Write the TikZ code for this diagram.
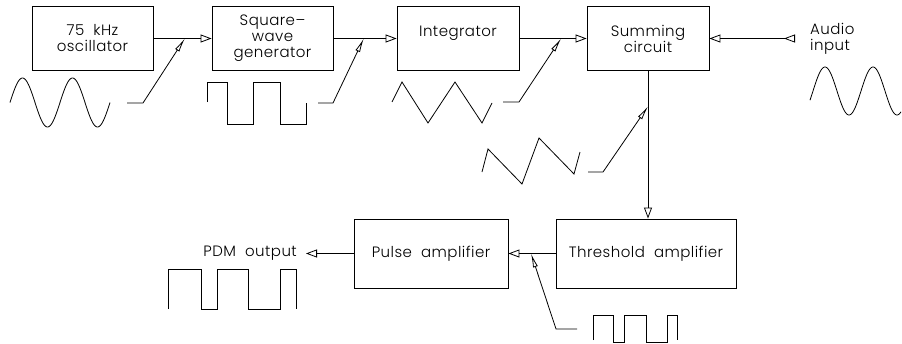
\documentclass[tikz,border=0pt]{standalone}
\usepackage{fontspec}
\setmainfont{Poppins}[UprightFont=* Light, LetterSpace=3]
\usetikzlibrary{arrows.meta,calc}

\tikzset{
  block/.style={draw, line width=0.9pt, minimum width=#1, minimum height=64pt, inner sep=0pt},
  block/.default=121pt,
  lbl/.style={font=\fontsize{15}{16}\selectfont, align=center, inner sep=0pt},
  opentip/.style={Triangle[open, length=11pt, width=8pt]},
  conn/.style={line width=0.8pt, -{Triangle[open, length=11pt, width=8pt]}},
  feed/.style={line width=0.8pt, -{Latex[open, length=14pt, width=5pt]}},
  wave/.style={line width=0.8pt, line join=miter}
}

\begin{document}
\begin{tikzpicture}[x=1pt, y=-1pt]
    \useasboundingbox (0,0) rectangle (902,343);

    % Top row of blocks
    \node[block, lbl] (osc) at (92.5,38.5) {75~~kHz\\oscillator};
    \node[block, lbl] (sqr) at (272.5,38.5) {Square--\\wave\\generator};
    \node[block=122pt] (integ) at (458,38.5) {};
    \node[lbl] at ([yshift=5pt]integ.center) {Integrator};
    \node[block=122pt, lbl] (sum) at (648,38.5) {Summing\\circuit};

    % Bottom row of blocks
    \node[block=180pt, minimum height=69pt, lbl] (thr) at (646,253.5) {Threshold~~amplifier};
    \node[block=154pt, minimum height=69pt, lbl] (pulse) at (431,253.5) {Pulse~~amplifier};

    % Input and output
    \coordinate (audio) at (795,38.5);
    \node[lbl, anchor=west, align=left] at (810,38.5) {Audio\\input};
    \node[lbl, anchor=east, inner xsep=9pt] (pdm) at (306,253.5) {PDM~~output};

    % Main signal path
    \draw[conn] (osc) -- (sqr);
    \draw[conn] (sqr) -- (integ);
    \draw[conn] (integ) -- (sum);
    \draw[line width=0.8pt, {Triangle[open, reversed, length=11pt, width=8pt]}-{Triangle[open, length=11pt, width=8pt]}] (audio) -- (sum);
    \draw[conn] (sum.south) -- (sum.south |- thr.north);
    \draw[conn] (thr) -- (pulse);
    \draw[conn] (pulse) -- (pdm);

    % Waveform pointers
    \draw[feed] (127,103) -- (143,103) -- ($(osc.east)!0.54!(sqr.west)$);
    \draw[feed] (318,103) -- (333,103) -- ($(sqr.east)!0.48!(integ.west)$);
    \draw[feed] (503,102) -- (519,102) -- ($(integ.east)!0.62!(sum.west)$);
    \draw[feed] (588,172) -- (603,172) -- ($(sum.south)!0.24!(sum.south |- thr.north)$);
    \draw[feed] (577,329) -- (556,329) -- ($(thr.west)!0.52!(pulse.east)$);

    % Waveforms
    \draw[wave, domain=10:110, samples=120, smooth] plot (\x, {102.5-24.5*sin(7.2*(\x-10))});
    \draw[wave, domain=810:901, samples=110, smooth] plot (\x, {91-24*sin(7.5*(\x-813))});
    \draw[wave] (207,102) -- (207,82) -- (227,82) -- (227,124) -- (253,124) -- (253,82)
        -- (280,82) -- (280,124) -- (306,124) -- (306,103);
    \draw[wave] (392,102) -- (402,82) -- (428,123) -- (455,82) -- (482,123) -- (492,103);
    \draw[wave] (482,172) -- (488,149) -- (522,184) -- (539,138) -- (574,174) -- (580,152);
    \draw[wave] (593,340) -- (593,315) -- (613,315) -- (613,342) -- (624,342) -- (624,315)
        -- (646,315) -- (646,342) -- (667,342) -- (667,315) -- (677,315) -- (677,340);
    \draw[wave] (168,309) -- (168,269) -- (201,269) -- (201,309) -- (217,309) -- (217,269)
        -- (248,269) -- (248,309) -- (280,309) -- (280,269) -- (296,269) -- (296,309);

\end{tikzpicture}
\end{document}
